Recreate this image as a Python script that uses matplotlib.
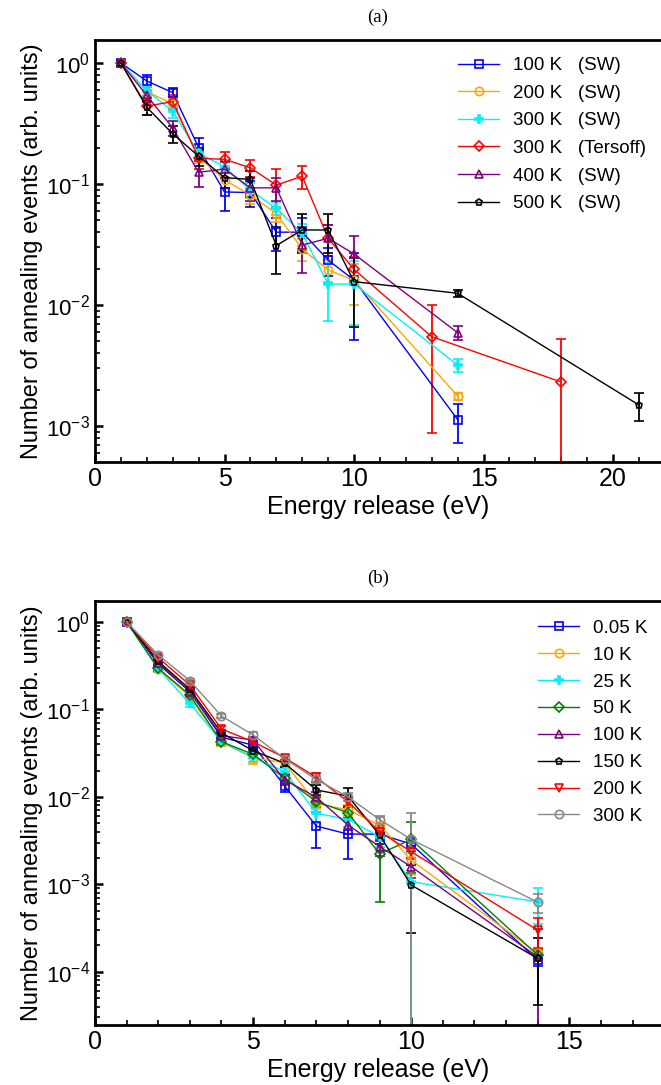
import numpy as np
import matplotlib
matplotlib.use("Agg")
import matplotlib.pyplot as plt
from matplotlib.ticker import LogLocator, MultipleLocator, LogFormatterSciNotation, NullFormatter

plt.rcParams['font.family'] = ['Liberation Sans', 'DejaVu Sans']
plt.rcParams['mathtext.fontset'] = 'custom'
plt.rcParams['mathtext.rm'] = 'Liberation Sans'
plt.rcParams['mathtext.it'] = 'Liberation Sans:italic'

# ---------------- Panel (a) data ----------------
xa_sw = [1, 2, 3, 4, 5, 6, 7, 8, 9, 10, 14]
a_100 = [1.0, 0.71, 0.57, 0.20, 0.086, 0.085, 0.040, 0.040, 0.0235, 0.0161, 0.00113]
a_100_err = [0.05, 0.08, 0.05, 0.04, 0.026, 0.02, 0.012, 0.012, 0.006, 0.011, 0.0004]
a_200 = [1.0, 0.58, 0.46, 0.168, 0.108, 0.081, 0.057, 0.029, 0.0195, 0.016, 0.00177]
a_200_err = [0.04, 0.05, 0.04, 0.02, 0.015, 0.012, 0.008, 0.006, 0.004, 0.006, 0.00012]
a_300 = [1.0, 0.59, 0.40, 0.18, 0.139, 0.089, 0.063, 0.039, 0.0149, 0.0149, 0.00319]
a_300_err = [0.04, 0.06, 0.05, 0.02, 0.015, 0.012, 0.008, 0.008, 0.0075, 0.008, 0.0004]
xa_ters = [1, 2, 3, 4, 5, 6, 7, 8, 9, 10, 13, 18]
a_ters = [1.0, 0.44, 0.48, 0.163, 0.16, 0.136, 0.098, 0.116, 0.0356, 0.0197, 0.00547, 0.00231]
a_ters_err = [0.05, 0.07, 0.06, 0.03, 0.025, 0.022, 0.035, 0.025, 0.01, 0.005, 0.0046, 0.0029]
a_400 = [1.0, 0.54, 0.29, 0.125, 0.133, 0.093, 0.093, 0.0313, 0.0356, 0.0264, 0.0059]
a_400_err = [0.04, 0.06, 0.04, 0.03, 0.02, 0.02, 0.02, 0.013, 0.01, 0.011, 0.0008]
xa_500 = [1, 2, 3, 4, 5, 6, 7, 8, 9, 10, 14, 21]
a_500 = [1.0, 0.43, 0.26, 0.17, 0.113, 0.109, 0.031, 0.0417, 0.0417, 0.0156, 0.0125, 0.00149]
a_500_err = [0.05, 0.06, 0.04, 0.03, 0.02, 0.02, 0.013, 0.015, 0.015, 0.009, 0.0008, 0.0004]

labels_a = ["100 K   (SW)", "200 K   (SW)", "300 K   (SW)", "300 K   (Tersoff)",
            "400 K   (SW)", "500 K   (SW)"]

# ---------------- Panel (b) data ----------------
xb = [1, 2, 3, 4, 5, 6, 7, 8, 9, 10, 14]
b_005 = [1.0, 0.33, 0.16, 0.048, 0.039, 0.0133, 0.00463, 0.00375, 0.00375, 0.00288, 0.000136]
b_005_err = [0.03, 0.02, 0.01, 0.004, 0.004, 0.002, 0.002, 0.0018, 0.0006, 0.0005, 0.00002]
b_10 = [1.0, 0.29, 0.14, 0.042, 0.028, 0.0245, 0.0084, 0.0071, 0.00476, 0.00189, 0.000162]
b_10_err = [0.03, 0.02, 0.01, 0.004, 0.004, 0.002, 0.0012, 0.001, 0.0012, 0.0006, 0.00002]
b_25 = [1.0, 0.29, 0.117, 0.043, 0.0283, 0.0194, 0.0065, 0.0055, 0.0035, 0.00107, 0.00063]
b_25_err = [0.03, 0.02, 0.01, 0.004, 0.003, 0.002, 0.0015, 0.001, 0.0008, 0.0012, 0.00028]
b_50 = [1.0, 0.295, 0.146, 0.0427, 0.0306, 0.0163, 0.0088, 0.0066, 0.00222, 0.00326, 0.000155]
b_50_err = [0.03, 0.02, 0.01, 0.004, 0.003, 0.002, 0.0012, 0.001, 0.0016, 0.0019, 0.00002]
b_100 = [1.0, 0.34, 0.16, 0.05, 0.0447, 0.0156, 0.0099, 0.00476, 0.0027, 0.00159, 0.000148]
b_100_err = [0.03, 0.02, 0.01, 0.004, 0.004, 0.002, 0.0015, 0.001, 0.0006, 0.0004, 0.00016]
b_150 = [1.0, 0.355, 0.17, 0.054, 0.0337, 0.0242, 0.012, 0.0102, 0.00366, 0.00098, 0.000142]
b_150_err = [0.03, 0.02, 0.01, 0.004, 0.003, 0.002, 0.0015, 0.0025, 0.0008, 0.0007, 0.0001]
b_200 = [1.0, 0.39, 0.19, 0.0597, 0.0427, 0.028, 0.0167, 0.0088, 0.004, 0.00236, 0.000299]
b_200_err = [0.03, 0.02, 0.01, 0.005, 0.004, 0.002, 0.002, 0.001, 0.0006, 0.0004, 0.00011]
b_300 = [1.0, 0.42, 0.213, 0.084, 0.051, 0.0273, 0.0158, 0.0100, 0.0055, 0.00326, 0.000625]
b_300_err = [0.03, 0.02, 0.01, 0.004, 0.004, 0.002, 0.0015, 0.001, 0.0006, 0.0033, 0.00015]

labels_b = ["0.05 K", "10 K", "25 K", "50 K", "100 K", "150 K", "200 K", "300 K"]

C_BLUE, C_ORANGE, C_CYAN, C_RED = '#0000ff', '#ffa500', '#00f0ff', '#ff0000'
C_PURPLE, C_BLACK, C_GREEN, C_GRAY = '#800080', '#000000', '#008000', '#888888'

fig = plt.figure(figsize=(6.61, 10.85), dpi=100)
W, H = 661.0, 1085.0
ax_a = fig.add_axes([95 / W, 1 - 462 / H, 1 - 95 / W, (462 - 40) / H])
ax_b = fig.add_axes([95 / W, 1 - 1024.7 / H, 1 - 95 / W, (1024.7 - 600.7) / H])


def series(ax, x, y, err, color, marker, label, filled=False, ms=6):
    ax.errorbar(x, y, yerr=err, color=color, lw=1.7, marker=marker, ms=ms,
                mfc=color if filled else 'none', mec=color, mew=1.2,
                elinewidth=1.3, capsize=3.5, capthick=1.5, label=label)


def style(ax, xmax, ylo, yhi):
    ax.set_yscale('log')
    ax.set_xlim(0, xmax)
    ax.set_ylim(ylo, yhi)
    for s in ['left', 'top', 'bottom']:
        ax.spines[s].set_linewidth(2)
    ax.spines['right'].set_visible(False)
    ax.xaxis.set_major_locator(MultipleLocator(5))
    ax.xaxis.set_minor_locator(MultipleLocator(1))
    ax.yaxis.set_major_locator(LogLocator(base=10, numticks=10))
    ax.yaxis.set_minor_locator(LogLocator(base=10, subs=np.arange(2, 10), numticks=20))
    ax.yaxis.set_minor_formatter(NullFormatter())
    ax.yaxis.set_major_formatter(LogFormatterSciNotation())
    ax.tick_params(which='both', direction='in', top=False, right=False)
    ax.tick_params(axis='x', labelsize=18)
    ax.tick_params(axis='y', labelsize=16)
    ax.tick_params(which='major', length=6, width=1.8)
    ax.tick_params(which='minor', length=3.5, width=1.2)
    ax.set_xlabel('Energy release (eV)', fontsize=18, labelpad=3)
    ax.set_ylabel('Number of annealing events (arb. units)', fontsize=17, labelpad=2)


series(ax_a, xa_sw, a_100, a_100_err, C_BLUE, 's', labels_a[0])
series(ax_a, xa_sw, a_200, a_200_err, C_ORANGE, 'o', labels_a[1])
series(ax_a, xa_sw, a_300, a_300_err, C_CYAN, 'P', labels_a[2], filled=True)
series(ax_a, xa_ters, a_ters, a_ters_err, C_RED, 'D', labels_a[3], ms=5.5)
series(ax_a, xa_sw, a_400, a_400_err, C_PURPLE, '^', labels_a[4])
series(ax_a, xa_500, a_500, a_500_err, C_BLACK, 'p', labels_a[5], ms=5)
style(ax_a, 21.85, 5.04e-4, 1.55)
ax_a.set_title('(a)', fontsize=13.5, family=['Liberation Serif'], pad=13)

series(ax_b, xb, b_005, b_005_err, C_BLUE, 's', labels_b[0])
series(ax_b, xb, b_10, b_10_err, C_ORANGE, 'o', labels_b[1])
series(ax_b, xb, b_25, b_25_err, C_CYAN, 'P', labels_b[2], filled=True)
series(ax_b, xb, b_50, b_50_err, C_GREEN, 'D', labels_b[3], ms=5.5)
series(ax_b, xb, b_100, b_100_err, C_PURPLE, '^', labels_b[4])
series(ax_b, xb, b_150, b_150_err, C_BLACK, 'p', labels_b[5], ms=5)
series(ax_b, xb, b_200, b_200_err, C_RED, 'v', labels_b[6])
series(ax_b, xb, b_300, b_300_err, C_GRAY, 'o', labels_b[7])
style(ax_b, 17.9, 2.48e-5, 1.75)
ax_b.set_title('(b)', fontsize=13.5, family=['Liberation Serif'], pad=13)

# legend placement (axes fraction of first handle start / top)
for ax, x0, y0, sp in ((ax_a, (458 - 95) / 566.0, 1 - 17 / 422.0, 0.56),
                       (ax_b, (538 - 95) / 566.0, 1 - 19 / 424.0, 0.52)):
    handles, labels = ax.get_legend_handles_labels()
    hs = [h[0] for h in handles]
    for h in hs:
        h.set_linewidth(1.0)
    ax.legend(hs, labels, loc='upper left', frameon=False, fontsize=13.5,
              handlelength=2.2, handletextpad=0.75, labelspacing=sp,
              borderaxespad=0.0, borderpad=0.0,
              bbox_to_anchor=(x0, y0))

fig.savefig('out.png', dpi=100)
